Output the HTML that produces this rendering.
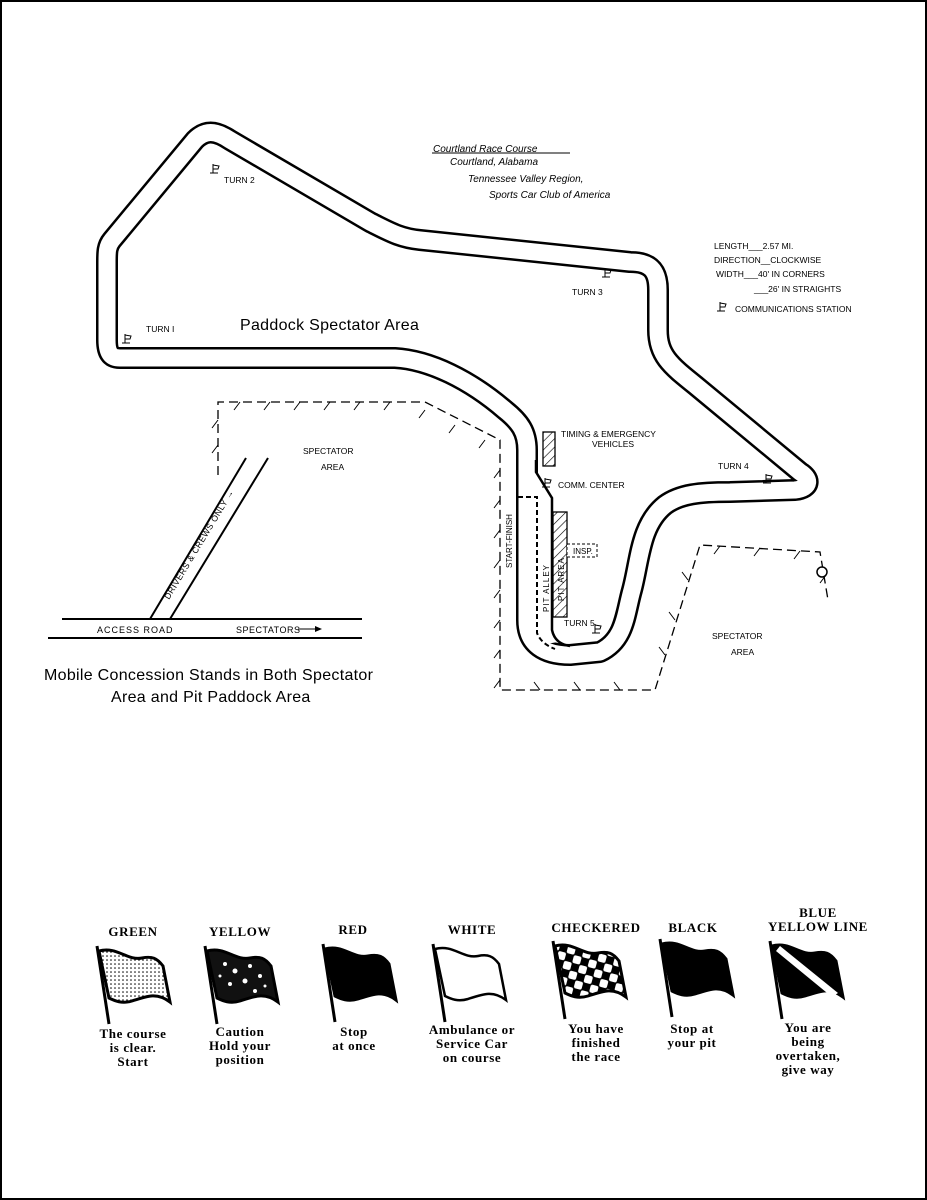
<!DOCTYPE html>
<html><head><meta charset="utf-8"><style>
html,body{margin:0;padding:0;background:#fff}
svg{display:block}
.s{font-family:"Liberation Sans",sans-serif;fill:#000}
.r{font-family:"Liberation Serif",serif;fill:#000;font-size:13px;text-anchor:middle;letter-spacing:0.6px}
</style></head><body>
<svg width="927" height="1200" viewBox="0 0 927 1200" xmlns="http://www.w3.org/2000/svg">
<defs>
<pattern id="h" width="6" height="6" patternUnits="userSpaceOnUse" patternTransform="rotate(45)"><line x1="0" y1="0" x2="0" y2="6" stroke="#000" stroke-width="1.2"/></pattern>
<pattern id="dots" width="4" height="4" patternUnits="userSpaceOnUse"><circle cx="2" cy="2" r="0.8" fill="#000"/></pattern>
<pattern id="chk" width="16" height="16" patternUnits="userSpaceOnUse" patternTransform="rotate(15)"><rect width="16" height="16" fill="#000"/><rect width="8" height="8" fill="#fff" rx="2"/><rect x="8" y="8" width="8" height="8" fill="#fff" rx="2"/></pattern>
<path id="cloth" d="M2,5 C20,0 30,15 45,12 C55,10 60,12 66,20 L73,56 C60,46 50,50 35,55 C25,58 18,55 12,52 Z"/>
<path id="trk" d="M120,358 L395,358 C430,360 470,380 505,410 C520,422 527,432 527,450 L527,620 C527,645 545,655 570,655 L600,652 C625,640 625,615 632,590 C640,560 640,525 665,505 C680,494 700,492 730,492 L795,490 C812,488 810,478 800,472 L695,385 C670,365 658,355 658,330 L658,290 C658,270 650,262 630,262 L420,240 C400,238 390,232 370,222 L230,140 C215,130 205,130 195,140 L112,240 C107,246 107,252 107,262 L107,340 C107,352 110,358 120,358 Z"/>
<g id="cs" fill="none" stroke="#000" stroke-width="1"><line x1="0" y1="0" x2="0" y2="9"/><line x1="-3" y1="9" x2="5" y2="9"/><path d="M0,1 L6,2 L5,5 L0,5"/></g>
</defs>
<rect x="1" y="1" width="925" height="1198" fill="none" stroke="#000" stroke-width="2"/>

<!-- track -->
<g fill="none" stroke-linejoin="round" stroke-linecap="round">
<use href="#trk" stroke="#000" stroke-width="22"/>
<use href="#trk" stroke="#fff" stroke-width="17"/>
</g>
<!-- widened pit straight -->
<path d="M519,472 L535,472 L551,498 L551,628 L558,642 L540,645 L530,640 L522,628 Z" fill="#fff"/>
<path d="M536,460 L536,472 L552,498 L552,630 Q555,644 570,646" fill="none" stroke="#000" stroke-width="2.5"/>
<!-- pit -->
<rect x="543" y="432" width="12" height="34" fill="url(#h)" stroke="#000" stroke-width="1.3"/>
<rect x="553" y="512" width="14" height="105" fill="url(#h)" stroke="#000" stroke-width="1.3"/>
<rect x="567" y="544" width="30" height="13" fill="#fff" stroke="#000" stroke-width="1" stroke-dasharray="3,2"/>
<text x="573" y="554" class="s" font-size="8">INSP.</text>
<path d="M518,497 L537,497 L537,633 C540,641 547,646 555,649" fill="none" stroke="#000" stroke-width="2" stroke-dasharray="5,3"/>
<text class="s" font-size="8" transform="translate(549,612) rotate(-90)" letter-spacing="1">PIT ALLEY</text>
<text class="s" font-size="8" transform="translate(564,601) rotate(-90)" letter-spacing="1">PIT AREA</text>
<text class="s" font-size="8" transform="translate(512,568) rotate(-90)">START-FINISH</text>

<!-- spectator boundaries -->
<g fill="none" stroke="#000" stroke-width="1.3" stroke-dasharray="9,5">
<path d="M218,475 L218,402 L425,402 L500,440 L500,690 L655,690 L700,545 L820,552 L828,600"/>
</g>
<g stroke="#000" stroke-width="1">
<path d="M218,420 l-6,8 M218,445 l-6,8 M240,402 l-6,8 M270,402 l-6,8 M300,402 l-6,8 M330,402 l-6,8 M360,402 l-6,8 M390,402 l-6,8 M425,410 l-6,8 M455,425 l-6,8 M485,440 l-6,8 M500,470 l-6,8 M500,500 l-6,8 M500,530 l-6,8 M500,560 l-6,8 M500,590 l-6,8 M500,620 l-6,8 M500,650 l-6,8 M500,680 l-6,8 M540,690 l-6,-8 M580,690 l-6,-8 M620,690 l-6,-8 M665,655 l-6,-8 M675,620 l-6,-8 M688,580 l-6,-8 M720,546 l-6,8 M760,548 l-6,8 M800,551 l-6,8 M826,575 l-6,8"/>
</g>
<circle cx="822" cy="572" r="5" fill="#fff" stroke="#000" stroke-width="1.5"/>

<!-- roads -->
<g stroke="#000" stroke-width="2">
<line x1="62" y1="619" x2="362" y2="619"/><line x1="48" y1="638" x2="362" y2="638"/>
<line x1="150" y1="619" x2="246" y2="458"/><line x1="170" y1="619" x2="268" y2="458"/>
<line x1="298" y1="629" x2="315" y2="629" stroke-width="1"/>
</g>
<path d="M315,626 L322,629 L315,632Z"/>
<text x="97" y="633" class="s" font-size="9" letter-spacing="1">ACCESS  ROAD</text>
<text x="236" y="633" class="s" font-size="9" letter-spacing="0.5">SPECTATORS</text>
<text class="s" font-size="8.5" transform="translate(169,600) rotate(-59)" letter-spacing="0.5">DRIVERS &amp; CREWS ONLY →</text>

<!-- labels -->
<text x="433" y="152" class="s" font-size="10" font-style="italic">Courtland  Race  Course</text>
<line x1="432" y1="153" x2="570" y2="153" stroke="#000"/>
<text x="450" y="165" class="s" font-size="10" font-style="italic">Courtland, Alabama</text>
<text x="468" y="182" class="s" font-size="10" font-style="italic">Tennessee Valley Region,</text>
<text x="489" y="198" class="s" font-size="10" font-style="italic">Sports Car Club of America</text>
<g class="s" font-size="8.5">
<text x="714" y="249">LENGTH___2.57 MI.</text>
<text x="714" y="263">DIRECTION__CLOCKWISE</text>
<text x="716" y="277">WIDTH___40' IN CORNERS</text>
<text x="754" y="292">___26' IN STRAIGHTS</text>
<text x="735" y="312">COMMUNICATIONS STATION</text>
<text x="224" y="183">TURN 2</text>
<text x="146" y="332">TURN I</text>
<text x="572" y="295">TURN 3</text>
<text x="718" y="469">TURN 4</text>
<text x="564" y="626">TURN 5</text>
<text x="561" y="437">TIMING &amp; EMERGENCY</text>
<text x="592" y="447">VEHICLES</text>
<text x="558" y="488">COMM. CENTER</text>
<text x="303" y="454">SPECTATOR</text>
<text x="321" y="470">AREA</text>
<text x="712" y="639">SPECTATOR</text>
<text x="731" y="655">AREA</text>
</g>
<use href="#cs" x="213" y="164"/><use href="#cs" x="125" y="334"/><use href="#cs" x="605" y="268"/><use href="#cs" x="720" y="302"/><use href="#cs" x="766" y="474"/><use href="#cs" x="545" y="478"/><use href="#cs" x="595" y="624"/>
<text x="240" y="330" class="s" font-size="16" letter-spacing="0.3">Paddock Spectator Area</text>
<text x="44" y="680" class="s" font-size="16" letter-spacing="0.3">Mobile Concession Stands in Both Spectator</text>
<text x="111" y="702" class="s" font-size="16" letter-spacing="0.3">Area and Pit Paddock Area</text>

<!-- flags -->
<g stroke="#000">
<g transform="translate(97,946)"><use href="#cloth" fill="url(#dots)" stroke-width="3"/><line x1="0" y1="0" x2="12" y2="78" stroke-width="3"/></g>
<g transform="translate(205,946)"><use href="#cloth" fill="#111" stroke-width="3"/><g fill="#fff" stroke="none"><circle cx="20" cy="18" r="2"/><circle cx="30" cy="25" r="2.5"/><circle cx="45" cy="20" r="2"/><circle cx="25" cy="38" r="2"/><circle cx="40" cy="35" r="2.5"/><circle cx="55" cy="30" r="2"/><circle cx="50" cy="45" r="2"/><circle cx="15" cy="30" r="1.5"/><circle cx="60" cy="40" r="1.5"/></g><line x1="0" y1="0" x2="12" y2="78" stroke-width="3"/></g>
<g transform="translate(323,944)"><use href="#cloth" fill="#000" stroke-width="3"/><line x1="0" y1="0" x2="12" y2="78" stroke-width="3"/></g>
<g transform="translate(433,944)"><use href="#cloth" fill="#fff" stroke-width="2.5"/><line x1="0" y1="0" x2="12" y2="78" stroke-width="3"/></g>
<g transform="translate(553,941)"><use href="#cloth" fill="url(#chk)" stroke-width="3"/><line x1="0" y1="0" x2="12" y2="78" stroke-width="3"/></g>
<g transform="translate(660,939)"><use href="#cloth" fill="#000" stroke-width="3"/><line x1="0" y1="0" x2="12" y2="78" stroke-width="3"/></g>
<g transform="translate(770,941)"><use href="#cloth" fill="#000" stroke-width="3"/><path d="M6,10 L10,5 L68,52 L62,56 Z" fill="#fff" stroke="none"/><line x1="0" y1="0" x2="12" y2="78" stroke-width="3"/></g>
</g>
<g class="r" font-weight="bold">
<text x="133" y="936">GREEN</text><text x="240" y="936">YELLOW</text><text x="353" y="934">RED</text><text x="472" y="934">WHITE</text><text x="596" y="932">CHECKERED</text><text x="693" y="932">BLACK</text><text x="818" y="917">BLUE</text><text x="818" y="931">YELLOW LINE</text>
</g>
<g class="r" font-weight="bold">
<text x="133" y="1038">The course</text><text x="133" y="1052">is clear.</text><text x="133" y="1066">Start</text>
<text x="240" y="1036">Caution</text><text x="240" y="1050">Hold your</text><text x="240" y="1064">position</text>
<text x="354" y="1036">Stop</text><text x="354" y="1050">at once</text>
<text x="472" y="1034">Ambulance or</text><text x="472" y="1048">Service Car</text><text x="472" y="1062">on course</text>
<text x="596" y="1033">You have</text><text x="596" y="1047">finished</text><text x="596" y="1061">the race</text>
<text x="692" y="1033">Stop at</text><text x="692" y="1047">your pit</text>
<text x="808" y="1032">You are</text><text x="808" y="1046">being</text><text x="808" y="1060">overtaken,</text><text x="808" y="1074">give way</text>
</g>
</svg>
</body></html>
